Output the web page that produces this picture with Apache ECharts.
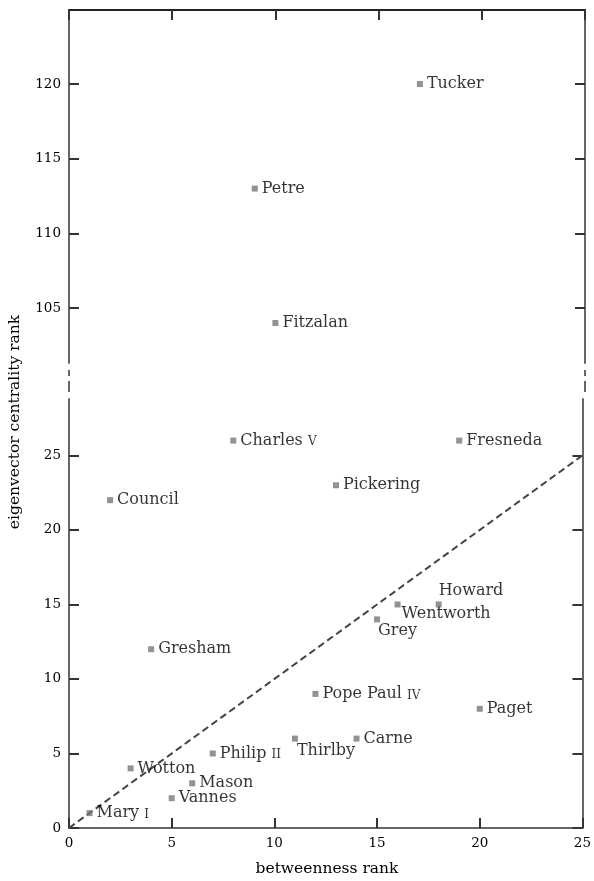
<!DOCTYPE html>
<html>
<head>
<meta charset="utf-8">
<script src="https://cdn.jsdelivr.net/npm/echarts@6/dist/echarts.min.js"></script>
<style>
html,body{margin:0;padding:0;background:#fff;}
#chart{width:594px;height:881px;}
</style>
</head>
<body>
<div id="chart"></div>
<script>
// ---- data ----
const names = ['Mary I','Vannes','Mason','Wotton','Philip II','Thirlby','Carne','Pope Paul IV','Paget','Gresham','Grey','Wentworth','Howard','Council','Pickering','Charles V','Fresneda','Fitzalan','Petre','Tucker'];
const betweennessRank = [1,5,6,3,7,11,14,12,20,4,15,16,18,2,13,8,19,10,9,17];
const eigenvectorRank = [1,2,3,4,5,6,6,9,8,12,14,15,15,22,23,26,26,104,113,120];
const xTicks = [0,5,10,15,20,25];
const yTicksLower = [0,5,10,15,20,25];
const yTicksUpper = [105,110,115,120];
const diagonal = [[0,0],[25,25]];

// ---- label placement tweaks (style, not data) ----
const labelOffsets = {
  'Thirlby': [-5, 12],
  'Grey': [-6, 11],
  'Wentworth': [-3, 9],
  'Howard': [-7, -14]
};

const FONT = 'DejaVu Serif';
const upperMin = 101.32, upperMax = 124.96, lowerMax = 28.79;

function fmtName(n) {
  const m = n.match(/^(.*)\s(I|II|IV|V)$/);
  if (m) return m[1] + ' {sc|' + m[2] + '}';
  return n;
}

const lowerPts = [], upperPts = [];
names.forEach((n, i) => {
  const item = {
    value: [betweennessRank[i], eigenvectorRank[i]],
    name: n,
    label: { offset: labelOffsets[n] || [0, 0] }
  };
  if (eigenvectorRank[i] > 100) upperPts.push(item); else lowerPts.push(item);
});

const labelStyle = {
  show: true,
  position: 'right',
  distance: 4,
  fontFamily: FONT,
  fontSize: 16,
  color: '#000',
  formatter: p => fmtName(p.name),
  rich: {
    sc: { fontFamily: FONT, fontSize: 12, color: '#000', padding: [3, 0, 0, 0] }
  }
};

const axisLineGray = { show: true, lineStyle: { color: '#666', width: 2 } };
const tickStyle = { show: true, inside: true, length: 10, lineStyle: { color: '#333', width: 2 } };
const tickLabel = { fontFamily: FONT, fontSize: 13.5, color: '#000', margin: 8 };

const chart = echarts.init(document.getElementById('chart'), null, { renderer: 'canvas' });
chart.setOption({
  animation: false,
  backgroundColor: '#fff',
  grid: [
    { left: 69, right: 9, top: 10, height: 353 },
    { left: 69, right: 9, top: 399, bottom: 53 }
  ],
  xAxis: [
    { gridIndex: 0, type: 'value', position: 'top', min: 0, max: 25, interval: 5,
      axisLine: { show: true, lineStyle: { color: '#222', width: 2 } },
      axisTick: tickStyle, axisLabel: { show: false }, splitLine: { show: false } },
    { gridIndex: 1, type: 'value', position: 'bottom', min: 0, max: 25, interval: 5,
      axisLine: axisLineGray, axisTick: tickStyle,
      axisLabel: Object.assign({}, tickLabel, { customValues: xTicks }),
      splitLine: { show: false } }
  ],
  yAxis: [
    { gridIndex: 0, type: 'value', position: 'left', min: upperMin, max: upperMax,
      axisLine: axisLineGray,
      axisTick: Object.assign({}, tickStyle, { customValues: yTicksUpper }),
      axisLabel: Object.assign({}, tickLabel, { customValues: yTicksUpper }),
      splitLine: { show: false } },
    { gridIndex: 0, type: 'value', position: 'right', min: upperMin, max: upperMax,
      axisLine: axisLineGray,
      axisTick: Object.assign({}, tickStyle, { customValues: yTicksUpper }),
      axisLabel: { show: false }, splitLine: { show: false } },
    { gridIndex: 1, type: 'value', position: 'left', min: 0, max: lowerMax,
      axisLine: axisLineGray,
      axisTick: Object.assign({}, tickStyle, { customValues: yTicksLower }),
      axisLabel: Object.assign({}, tickLabel, { customValues: yTicksLower }),
      splitLine: { show: false } },
    { gridIndex: 1, type: 'value', position: 'right', min: 0, max: lowerMax,
      axisLine: axisLineGray,
      axisTick: Object.assign({}, tickStyle, { customValues: yTicksLower }),
      axisLabel: { show: false }, splitLine: { show: false } }
  ],
  series: [
    { type: 'line', xAxisIndex: 1, yAxisIndex: 2, data: diagonal, symbol: 'none', z: 1,
      lineStyle: { color: '#444', width: 2, type: [7, 4] }, silent: true },
    { type: 'scatter', xAxisIndex: 1, yAxisIndex: 2, data: lowerPts, symbol: 'rect', symbolSize: 6,
      itemStyle: { color: '#777' }, label: labelStyle, z: 3 },
    { type: 'scatter', xAxisIndex: 0, yAxisIndex: 0, data: upperPts, symbol: 'rect', symbolSize: 6,
      itemStyle: { color: '#777' }, label: labelStyle, z: 3 }
  ],
  graphic: [
    { type: 'line', shape: { x1: 69, y1: 370, x2: 69, y2: 376 }, style: { stroke: '#666', lineWidth: 2 } },
    { type: 'line', shape: { x1: 69, y1: 381, x2: 69, y2: 392 }, style: { stroke: '#666', lineWidth: 2 } },
    { type: 'line', shape: { x1: 585, y1: 370, x2: 585, y2: 376 }, style: { stroke: '#666', lineWidth: 2 } },
    { type: 'line', shape: { x1: 585, y1: 381, x2: 585, y2: 392 }, style: { stroke: '#666', lineWidth: 2 } },
    { type: 'text', x: 327, y: 869, style: { text: 'betweenness rank', font: '15.5px "DejaVu Serif"', fill: '#000', align: 'center', verticalAlign: 'middle' } },
    { type: 'text', x: 15, y: 422, rotation: Math.PI / 2, style: { text: 'eigenvector centrality rank', font: '15.5px "DejaVu Serif"', fill: '#000', align: 'center', verticalAlign: 'middle' } }
  ]
});
</script>
</body>
</html>
